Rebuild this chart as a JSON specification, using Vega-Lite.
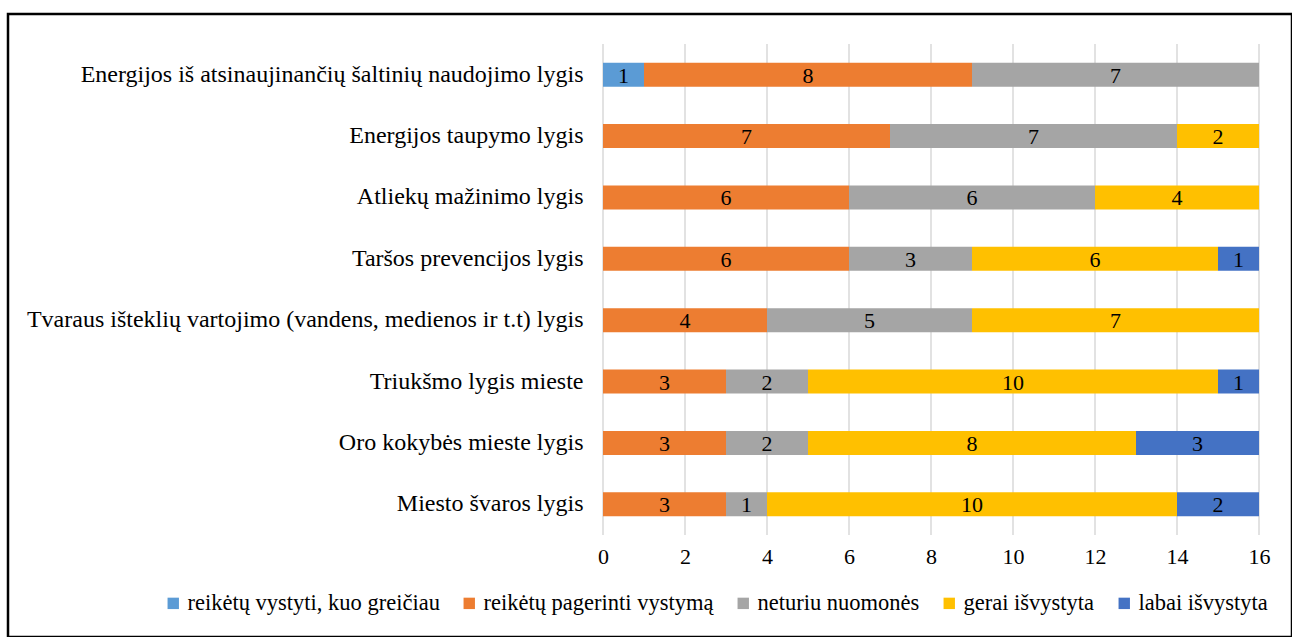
{
  "$schema": "https://vega.github.io/schema/vega-lite/v6.json",
  "width": 1284,
  "height": 623,
  "autosize": {"type": "none"},
  "padding": {"left": 8, "top": 14, "right": 0, "bottom": 0},
  "background": "white",
  "config": {
    "font": "Liberation Serif",
    "view": {"stroke": "#000000", "strokeWidth": 2.5, "fill": "white"},
    "axis": {"labelFont": "Liberation Serif", "labelColor": "#000000", "labelFontSize": 22},
    "legend": {"labelFont": "Liberation Serif", "labelColor": "#000000", "labelFontSize": 22.5, "labelLimit": 500}
  },
  "datasets": {
    "ticks": [{"t": 0}, {"t": 2}, {"t": 4}, {"t": 6}, {"t": 8}, {"t": 10}, {"t": 12}, {"t": 14}, {"t": 16}]
  },
  "data": {
    "values": [
      {"cat": "Energijos iš atsinaujinančių šaltinių naudojimo lygis", "s": "reikėtų vystyti, kuo greičiau", "v": 1},
      {"cat": "Energijos iš atsinaujinančių šaltinių naudojimo lygis", "s": "reikėtų pagerinti vystymą", "v": 8},
      {"cat": "Energijos iš atsinaujinančių šaltinių naudojimo lygis", "s": "neturiu nuomonės", "v": 7},
      {"cat": "Energijos taupymo lygis", "s": "reikėtų pagerinti vystymą", "v": 7},
      {"cat": "Energijos taupymo lygis", "s": "neturiu nuomonės", "v": 7},
      {"cat": "Energijos taupymo lygis", "s": "gerai išvystyta", "v": 2},
      {"cat": "Atliekų mažinimo lygis", "s": "reikėtų pagerinti vystymą", "v": 6},
      {"cat": "Atliekų mažinimo lygis", "s": "neturiu nuomonės", "v": 6},
      {"cat": "Atliekų mažinimo lygis", "s": "gerai išvystyta", "v": 4},
      {"cat": "Taršos prevencijos lygis", "s": "reikėtų pagerinti vystymą", "v": 6},
      {"cat": "Taršos prevencijos lygis", "s": "neturiu nuomonės", "v": 3},
      {"cat": "Taršos prevencijos lygis", "s": "gerai išvystyta", "v": 6},
      {"cat": "Taršos prevencijos lygis", "s": "labai išvystyta", "v": 1},
      {"cat": "Tvaraus išteklių vartojimo (vandens, medienos ir t.t) lygis", "s": "reikėtų pagerinti vystymą", "v": 4},
      {"cat": "Tvaraus išteklių vartojimo (vandens, medienos ir t.t) lygis", "s": "neturiu nuomonės", "v": 5},
      {"cat": "Tvaraus išteklių vartojimo (vandens, medienos ir t.t) lygis", "s": "gerai išvystyta", "v": 7},
      {"cat": "Triukšmo lygis mieste", "s": "reikėtų pagerinti vystymą", "v": 3},
      {"cat": "Triukšmo lygis mieste", "s": "neturiu nuomonės", "v": 2},
      {"cat": "Triukšmo lygis mieste", "s": "gerai išvystyta", "v": 10},
      {"cat": "Triukšmo lygis mieste", "s": "labai išvystyta", "v": 1},
      {"cat": "Oro kokybės mieste lygis ", "s": "reikėtų pagerinti vystymą", "v": 3},
      {"cat": "Oro kokybės mieste lygis ", "s": "neturiu nuomonės", "v": 2},
      {"cat": "Oro kokybės mieste lygis ", "s": "gerai išvystyta", "v": 8},
      {"cat": "Oro kokybės mieste lygis ", "s": "labai išvystyta", "v": 3},
      {"cat": "Miesto švaros lygis", "s": "reikėtų pagerinti vystymą", "v": 3},
      {"cat": "Miesto švaros lygis", "s": "neturiu nuomonės", "v": 1},
      {"cat": "Miesto švaros lygis", "s": "gerai išvystyta", "v": 10},
      {"cat": "Miesto švaros lygis", "s": "labai išvystyta", "v": 2}
    ]
  },
  "resolve": {"scale": {"y": "independent"}, "axis": {"y": "independent"}},
  "layer": [
    {
      "data": {"name": "ticks"},
      "mark": {"type": "rule", "color": "#D9D9D9", "strokeWidth": 1.5},
      "encoding": {
        "x": {"field": "t", "type": "quantitative"},
        "y": {"datum": 0, "type": "quantitative", "scale": {"domain": [0, 1], "range": [30, 521], "nice": false, "zero": false}, "axis": null},
        "y2": {"datum": 1}
      }
    },
    {
      "transform": [{"stack": "v", "groupby": ["cat"], "as": ["x0", "x1"]}],
      "mark": {"type": "bar"},
      "encoding": {
        "y": {
          "field": "cat",
          "type": "nominal",
          "sort": null,
          "scale": {"range": [30, 521], "paddingInner": 0.61, "paddingOuter": 0.305},
          "axis": {"title": null, "domain": false, "ticks": false, "offset": -595, "labelPadding": 20, "labelLimit": 600, "labelFontSize": 24}
        },
        "x": {
          "field": "x0",
          "type": "quantitative",
          "scale": {"domain": [0, 16], "range": [595, 1251], "nice": false},
          "axis": {
            "title": null,
            "values": [0, 2, 4, 6, 8, 10, 12, 14, 16],
            "format": "d",
            "labelFlush": false,
            "labelAlign": "center",
            "domain": false,
            "ticks": false,
            "grid": false,
            "offset": -102,
            "labelPadding": 11
          }
        },
        "x2": {"field": "x1"},
        "color": {
          "field": "s",
          "type": "nominal",
          "scale": {
            "domain": ["reikėtų vystyti, kuo greičiau", "reikėtų pagerinti vystymą", "neturiu nuomonės", "gerai išvystyta", "labai išvystyta"],
            "range": ["#5B9BD5", "#ED7D31", "#A5A5A5", "#FFC000", "#4472C4"]
          },
          "legend": {
            "title": null,
            "orient": "none",
            "legendX": 154,
            "legendY": 578,
            "direction": "horizontal",
            "columns": 5,
            "symbolType": "square",
            "symbolSize": 130,
            "symbolStrokeWidth": 0,
            "labelOffset": 3,
            "columnPadding": 18
          }
        }
      }
    },
    {
      "transform": [
        {"stack": "v", "groupby": ["cat"], "as": ["x0", "x1"]},
        {"fold": ["x0", "x1"], "as": ["edge", "xv"]}
      ],
      "mark": {"type": "text", "fontSize": 22, "color": "#000000", "baseline": "middle", "align": "center", "dy": 1},
      "encoding": {
        "y": {
          "field": "cat",
          "type": "nominal",
          "sort": null,
          "scale": {"range": [30, 521], "paddingInner": 0.61, "paddingOuter": 0.305},
          "axis": null
        },
        "x": {"aggregate": "mean", "field": "xv", "type": "quantitative"},
        "detail": {"field": "s"},
        "text": {"field": "v", "type": "quantitative"}
      }
    }
  ]
}
